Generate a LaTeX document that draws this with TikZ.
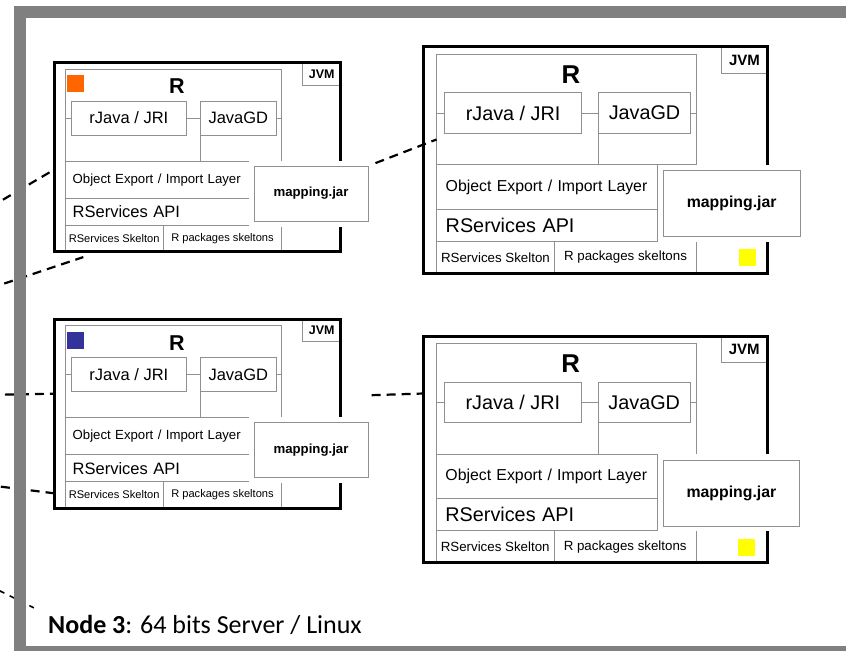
\documentclass[tikz,border=0pt]{standalone}
\usepackage{fontspec}
\setmainfont{Liberation Sans}
\newfontfamily\capfont{Carlito}
\usetikzlibrary{positioning}

\definecolor{linegray}{HTML}{909090}
\definecolor{framegray}{HTML}{808080}
\definecolor{rorange}{HTML}{FF6600}
\definecolor{rblue}{HTML}{333399}
\definecolor{ryellow}{HTML}{FFFF00}

\tikzset{
  part/.style={draw=linegray, line width=0.9pt, fill=white, inner sep=0pt,
    outer sep=0pt, anchor=north west},
  wire/.style={draw=linegray, line width=0.9pt},
  pics/rbox/.style={code={
    \node[anchor=north west, fill=white, inner sep=0pt, outer sep=0pt,
      minimum width=286.7pt, minimum height=189pt] (-box) at (0,0) {};
    \node[part, minimum width=38pt, minimum height=22.3pt,
      font=\bfseries\fontsize{12.5}{14}\selectfont] (-jvm) at (248.7,0) {JVM};
    \node[part, minimum width=216.7pt, minimum height=92pt] (-R) at (11,6.3) {};
    \node[font=\bfseries\fontsize{21.5}{24}\selectfont, inner sep=0pt] (-rlabel) at (123,23.3) {R};
    \node[part, minimum width=114.3pt, minimum height=34pt,
      font=\fontsize{16.5}{19}\selectfont] (-rjava) at (17.7,38.3) {rJava / JRI};
    \node[part, minimum width=76.7pt, minimum height=34pt,
      font=\fontsize{16.5}{19}\selectfont] (-javagd) at (146,38.3) {JavaGD};
    \draw[wire] (-rjava.west) -- (-rjava.west -| -R.west);
    \draw[wire] (-javagd.east) -- (-javagd.east -| -R.east);
    \draw[wire] (-rjava.east) -- coordinate (-tee) (-javagd.west);
    \draw[wire] (-tee) -- (-tee |- -R.south);
    \node[part, minimum height=37.3pt, inner xsep=7.7pt, text width=168.9pt, align=left,
      font=\fontsize{13.2}{15}\selectfont] (-export) at (11,98.3) {Object Export / Import Layer};
    \node[part, minimum height=26.7pt, inner xsep=7.7pt, text width=168.9pt, align=left,
      font=\fontsize{16.5}{19}\selectfont] (-api) at (11,135.6) {RServices API};
    \node[part, minimum width=98.3pt, minimum height=26.7pt,
      font=\fontsize{11.1}{13}\selectfont] (-skel) at (11,162.3) {RServices Skelton};
    \node[part, minimum width=118.4pt, minimum height=26.7pt,
      font=\fontsize{11.1}{13}\selectfont] (-pkg) at (109.3,162.3) {R packages skeltons};
    \draw[line width=3pt] (-box.north west) rectangle (-box.south east);
    \node[part, minimum width=114pt, minimum height=55pt,
      preaction={draw=white, line width=11pt},
      font=\bfseries\fontsize{13.2}{15}\selectfont] (-map) at (200,103.3) {mapping.jar};
  }}
}

\begin{document}
\begin{tikzpicture}[x=1pt, y=-1pt,
    swatch/.style={minimum size=17pt, inner sep=0pt, outer sep=0pt},
    link/.style={line width=2.2pt, dash pattern=on 9pt off 6pt}]
  \clip (0,0) rectangle (846,651);
  \fill[white] (0,0) rectangle (846,651);

  % the four machines
  \pic (b1) at (54,62.7) {rbox};
  \pic[scale=1.2, transform shape] (b2) at (423.3,46.7) {rbox};
  \pic (b3) at (54,319.3) {rbox};
  \pic[scale=1.2, transform shape] (b4) at (423,336) {rbox};

  \node[swatch, fill=rorange, below right=6pt and 1.7pt of b1-R.north west] (sw1) {};
  \node[swatch, fill=rblue, below right=6pt and 1.7pt of b3-R.north west] (sw3) {};
  \node[swatch, fill=ryellow, above left=7.3pt and 11.7pt of b2-box.south east] (sw2) {};
  \node[swatch, fill=ryellow, above left=7.3pt and 11.7pt of b4-box.south east] (sw4) {};

  \node[font=\capfont\fontsize{26}{29}\selectfont, inner sep=0pt, anchor=base west]
    (caption) at (48,633.3) {\textbf{Node 3}: 64 bits Server / Linux};

  % links to the other nodes
  \coordinate (w1) at (-10,207.3);
  \coordinate (w2) at (-10,288.3);
  \coordinate (w3) at (-10,394.9);
  \coordinate (w4) at (-14,484.8);
  \coordinate (w5) at (-10,586);
  \draw[link] (w1) -- (b1-box.185.8);
  \draw[link, shorten >=17pt] (w2) -- (b1-box.224.2);
  \draw[link, shorten <=8pt] (b1-map.north east) -- (b2-R.193);
  \draw[link] (w3) -- (b3-box.172.5);
  \draw[link] (w4) -- (b3-box.209.2);
  \draw[link, shorten <=31pt] (b3-box.7.5) -- (b4-box.162.5);
  \draw[link, line width=1.6pt, dash pattern=on 5pt off 6pt, shorten >=14pt]
    (w5) -- (caption.north west);

  % page frame
  \fill[framegray] (14,6) rectangle (846,18);
  \fill[framegray] (14,6) rectangle (26,651);
  \fill[framegray] (14,645.7) rectangle (846,651);
\end{tikzpicture}
\end{document}
